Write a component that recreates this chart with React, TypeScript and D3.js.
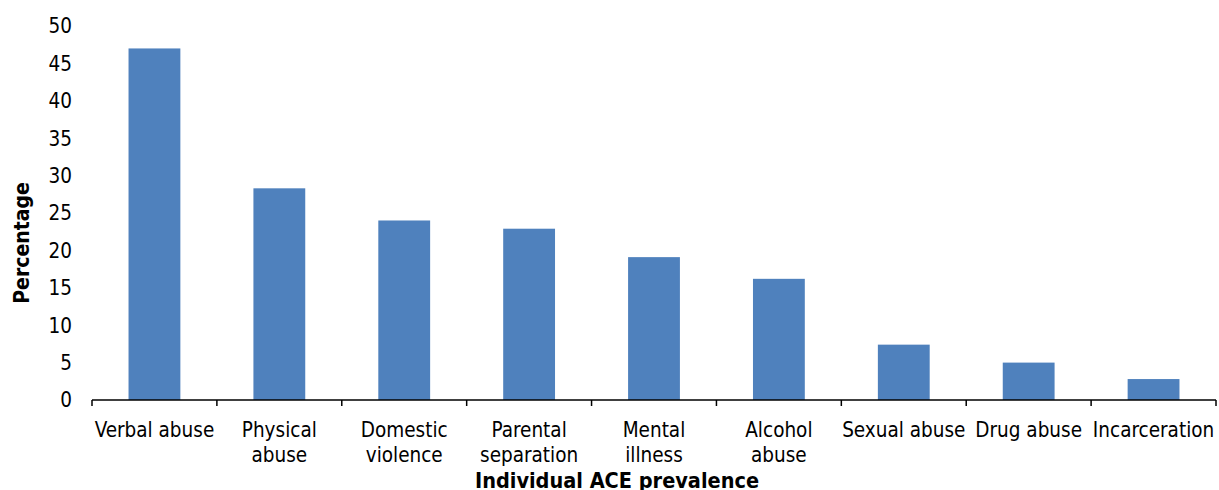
import React from "react";
import * as d3 from "d3";

const categories = [
  "Verbal abuse",
  "Physical\nabuse",
  "Domestic\nviolence",
  "Parental\nseparation",
  "Mental\nillness",
  "Alcohol\nabuse",
  "Sexual abuse",
  "Drug abuse",
  "Incarceration",
];
const values = [47.0, 28.3, 24.0, 22.9, 19.1, 16.2, 7.4, 5.0, 2.8];
const yTicks = [0, 5, 10, 15, 20, 25, 30, 35, 40, 45, 50];
const yTitle = "Percentage";
const xTitle = "Individual ACE prevalence";

const W = 1219;
const H = 490;
const left = 92;
const right = 1216;
const top = 26;
const bottom = 400;
const font = "'DejaVu Sans Condensed', 'DejaVu Sans', sans-serif";

export default function App() {
  const x = d3.scaleBand<number>().domain(d3.range(categories.length)).range([left, right]).paddingInner(0.585).paddingOuter(0.2925);
  const xb = d3.scaleBand<number>().domain(d3.range(categories.length)).range([left, right]);
  const y = d3.scaleLinear().domain([0, 50]).range([bottom, top]);
  return (
    <svg width={W} height={H} style={{ position: "absolute", left: 0, top: 0, background: "#fff" }}>
      {values.map((v, i) => (
        <rect key={i} x={x(i)} y={y(v)} width={x.bandwidth()} height={y(0) - y(v)} fill="#4F81BD" />
      ))}
      {yTicks.map((t) => (
        <text key={t} x={72} y={y(t)} dy="0.36em" textAnchor="end" fontFamily={font} fontSize={20.5} fill="#000">
          {t}
        </text>
      ))}
      <line x1={left} x2={right} y1={bottom} y2={bottom} stroke="#000" strokeWidth={1.5} />
      {d3.range(categories.length + 1).map((i) => {
        const px = i < categories.length ? (xb(i) as number) : right;
        return <line key={i} x1={px} x2={px} y1={bottom} y2={bottom + 6} stroke="#000" strokeWidth={1.5} />;
      })}
      {categories.map((c, i) => {
        const cx = (xb(i) as number) + xb.bandwidth() / 2;
        return (
          <text key={c} x={cx} y={437} textAnchor="middle" fontFamily={font} fontSize={20.5} fill="#000">
            {c.split("\n").map((l, j) => (
              <tspan key={j} x={cx} dy={j === 0 ? 0 : 25}>
                {l}
              </tspan>
            ))}
          </text>
        );
      })}
      <text x={617} y={488} textAnchor="middle" fontFamily={font} fontSize={21.5} fontWeight="bold" fill="#000">
        {xTitle}
      </text>
      <text transform={`translate(29,243) rotate(-90)`} textAnchor="middle" fontFamily={font} fontSize={21} fontWeight="bold" fill="#000">
        {yTitle}
      </text>
    </svg>
  );
}
